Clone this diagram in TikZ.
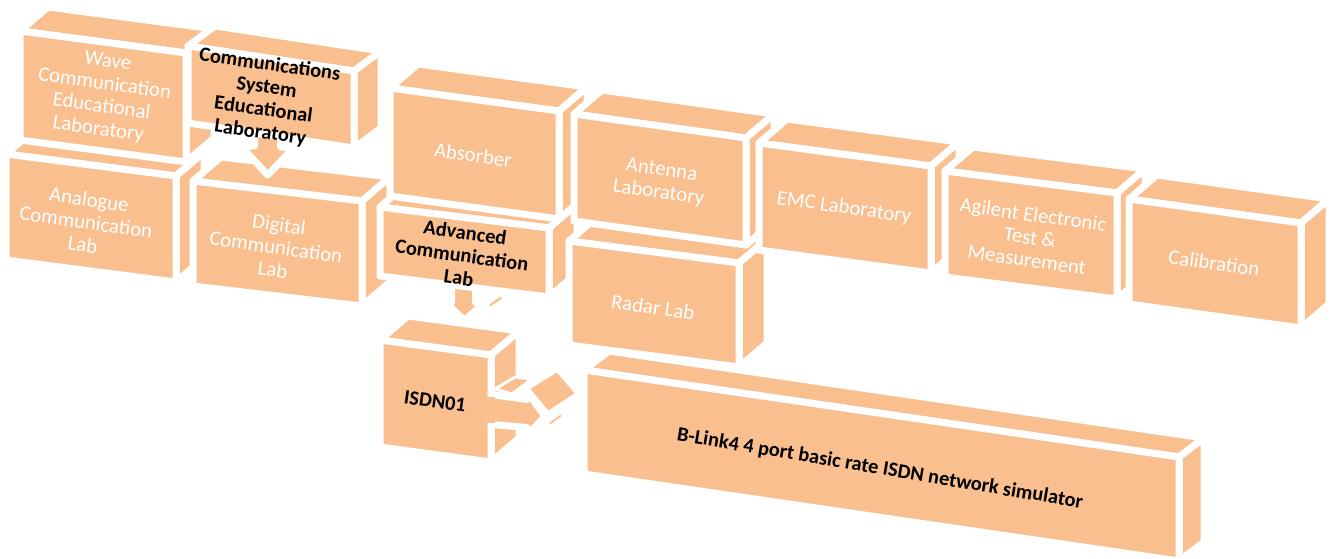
\documentclass[tikz,border=0pt]{standalone}
\usepackage{fontspec}
\setmainfont{Carlito}
\usetikzlibrary{calc}

\definecolor{peach}{RGB}{249,191,143}

\tikzset{
  face/.style={fill=peach,draw=white,line width=3.5pt,line join=round},
  thinface/.style={fill=peach,draw=white,line width=1.5pt,line join=round},
  wlab/.style={text=white,align=center,rotate=-8,font=\fontsize{10.4}{11.4}\selectfont},
  blab/.style={text=black,align=center,rotate=-8,font=\fontsize{10.2}{11.4}\selectfont\bfseries}
}

% name, front top-left, front top-right, height
\newcommand{\labcorners}[4]{%
  \coordinate (#1-tl) at (#2);
  \coordinate (#1-tr) at (#3);
  \coordinate (#1-bl) at ($(#1-tl)+(0,#4)$);
  \coordinate (#1-br) at ($(#1-tr)+(0,#4)$);
}
% [depth] name
\newcommand{\labcube}[2][28,-24]{%
  \draw[face] (#2-tl) -- (#2-tr) -- ($(#2-tr)+(#1)$) -- ($(#2-tl)+(#1)$) -- cycle;
  \draw[face] (#2-tr) -- ($(#2-tr)+(#1)$) -- ($(#2-br)+(#1)$) -- (#2-br) -- cycle;
  \draw[face] (#2-tl) -- (#2-tr) -- (#2-br) -- (#2-bl) -- cycle;
}

\begin{document}
\begin{tikzpicture}[x=0.5pt,y=-0.5pt]

\useasboundingbox (0,0) rectangle (1340,558);
\fill[white] (0,0) rectangle (1340,558);

\labcorners{analogue}{6,154}{176,176}{106}
\labcorners{wave}{20,31}{186,53}{109}
\labcorners{digital}{193,181}{362,201}{105}
\labcorners{comsys}{188,46}{354,71}{77}
\labcorners{isdn}{380,340}{491,355}{107}
\labcorners{advanced}{380,207}{549,228}{69}
\labcorners{absorber}{390,88}{559,111}{108}
\labcorners{blink}{584,370}{1179,457}{104}
\labcorners{radar}{569,241}{739,263}{104}
\labcorners{antenna}{574,114}{746,138}{107}
\labcorners{emc}{759,143}{931,166}{107}
\labcorners{agilent}{945,171}{1117,193}{106}
\labcorners{calib}{1129,199}{1301,223}{105}

% left column
\labcube{analogue}
\labcube{wave}
\labcube{digital}

\coordinate (a1) at ($(comsys-bl)!0.48!(comsys-br)$);
\draw[face,shift={(a1)}] (-13,-12) -- (13,-10) -- (13,12) -- (26,13) -- (0,40) -- (-27,11) -- (-13,11) -- cycle;
\draw[thinface,shift={(a1)}] (27,11) -- (35,6) -- (37,9) -- (29,14) -- cycle;

\labcube[27,-20]{comsys}

% ISDN01 and its arrows
\labcube{isdn}

\coordinate (a2) at ($(advanced-bl)!0.5!(advanced-br)$);
\draw[face,shift={(a2)}] (-13,-8) -- (11,-6) -- (11,16) -- (19,17) -- (0,34) -- (-19,16) -- (-13,16) -- cycle;
\draw[thinface,shift={(a2)}] (22,18) -- (36,8) -- (40,12) -- (26,22) -- cycle;

\coordinate (a3) at ($(isdn-tr)!0.5!(isdn-br)$);
\draw[thinface,shift={(a3)}] (4,-19.5) -- (24,-31.5) -- (41,-29.5) -- (21,-14.5) -- cycle;
\draw[thinface,shift={(a3)}] (37,-20) -- (66,-38) -- (86,-15) -- (57,4) -- cycle;
\draw[face,shift={(a3)}] (0,-14) -- (36,-9) -- (36,-17) -- (54,8) -- (36,27) -- (36,19) -- (0,16) -- cycle;
\fill[peach,shift={(a3)}] (-6,-12) rectangle (4,14);
\draw[thinface,shift={(a3)}] (56,14) -- (70,4) -- (73,8) -- (59,18) -- cycle;

% middle columns
\labcube{advanced}
\labcube{absorber}
\labcube[25,-19]{blink}
\labcube{radar}
\labcube{antenna}

% right row
\labcube{emc}
\labcube{agilent}
\labcube{calib}

\node[wlab] (wave) at (103,96) {Wave\\Communication\\Educational\\Laboratory};
\node[blab] (comsys) at (265,99) {Communications\\System\\Educational\\Laboratory};
\node[wlab] (analogue) at (86,222) {Analogue\\Communication\\Lab};
\node[wlab] (digital) at (276,247) {Digital\\Communication\\Lab};
\node[wlab] (absorber) at (473,155) {Absorber};
\node[blab] (advanced) at (462,255) {Advanced\\Communication\\Lab};
\node[wlab] (antenna) at (660,182) {Antenna\\Laboratory};
\node[wlab] (radar) at (653,307) {Radar Lab};
\node[wlab] (emc) at (844,208) {EMC Laboratory};
\node[wlab] (agilent) at (1030,237) {Agilent Electronic\\Test \&\\Measurement};
\node[wlab] (calib) at (1214,263) {Calibration};
\node[blab] (isdn) at (435,401) {ISDN01};
\node[blab,rotate=-1.5] (blink) at (880,469) {B-Link4 4 port basic rate ISDN network simulator};

\end{tikzpicture}
\end{document}
